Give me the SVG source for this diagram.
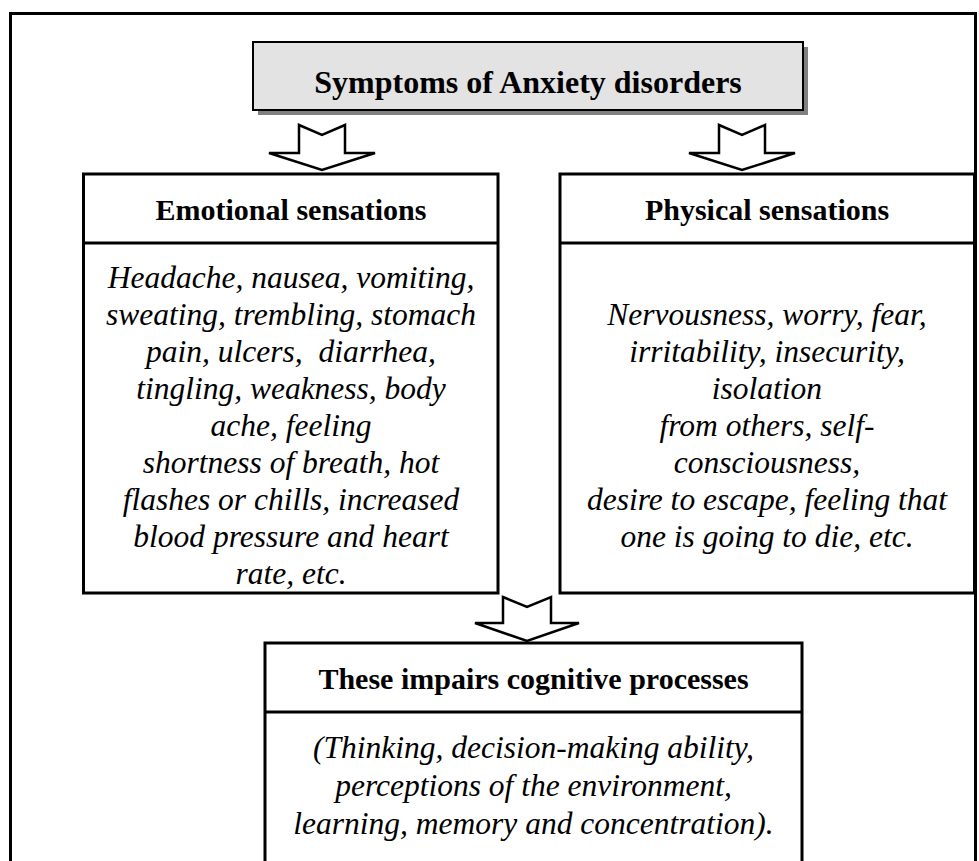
<svg xmlns="http://www.w3.org/2000/svg" width="979" height="861" viewBox="0 0 979 861">
<style>
.frame{fill:none;stroke:#000;stroke-width:3}
.box{fill:#fff;stroke:#000;stroke-width:3}
.div{stroke:#000;stroke-width:3}
.arrow{fill:#fff;stroke:#000;stroke-width:2.5;stroke-linejoin:miter}
.title{font-family:"Liberation Serif","Times New Roman",serif;font-weight:bold;font-size:32px;text-anchor:middle;fill:#000}
.head{font-family:"Liberation Serif","Times New Roman",serif;font-weight:bold;font-size:30px;text-anchor:middle;fill:#000}
.body{font-family:"Liberation Serif","Times New Roman",serif;font-style:italic;font-size:31.5px;text-anchor:middle;fill:#000}
</style>
<rect width="979" height="861" fill="#fff"/>
<rect class="frame" x="10.5" y="13.5" width="965" height="900"/>

<g id="title">
<rect x="258" y="47" width="550" height="68" fill="#808080"/>
<rect x="253" y="42" width="550" height="68" fill="#e3e3e3" stroke="#000" stroke-width="2"/>
<text class="title" x="528" y="93">Symptoms of Anxiety disorders</text>
</g>

<g id="connectors">
<polygon class="arrow" points="299,125 322,135 345,125 345,153 375,153 322,170 269,153 299,153"/>
<polygon class="arrow" points="719,125 742,135 765,125 765,153 795,153 742,170 689,153 719,153"/>
<polygon class="arrow" points="503,597 527,607 551,597 551,623 579,623 527,641 475,623 503,623"/>
</g>

<g id="emotional">
<rect class="box" x="83.5" y="174" width="414.5" height="419"/>
<line class="div" x1="83.5" y1="243" x2="498" y2="243"/>
<text class="head" x="291" y="220">Emotional sensations</text>
<text class="body" x="291" y="288">Headache, nausea, vomiting,</text>
<text class="body" x="291" y="325">sweating, trembling, stomach</text>
<text class="body" x="291" y="362" xml:space="preserve" style="white-space:pre">pain, ulcers,  diarrhea,</text>
<text class="body" x="291" y="399">tingling, weakness, body</text>
<text class="body" x="291" y="436">ache, feeling</text>
<text class="body" x="291" y="473">shortness of breath, hot</text>
<text class="body" x="291" y="510">flashes or chills, increased</text>
<text class="body" x="291" y="547">blood pressure and heart</text>
<text class="body" x="291" y="584">rate, etc.</text>
</g>

<g id="physical">
<rect class="box" x="560" y="174" width="414.5" height="419"/>
<line class="div" x1="560" y1="243" x2="974.5" y2="243"/>
<text class="head" x="767" y="220">Physical sensations</text>
<text class="body" x="767" y="325">Nervousness, worry, fear,</text>
<text class="body" x="767" y="362">irritability, insecurity,</text>
<text class="body" x="767" y="399">isolation</text>
<text class="body" x="767" y="436">from others, self-</text>
<text class="body" x="767" y="473">consciousness,</text>
<text class="body" x="767" y="510">desire to escape, feeling that</text>
<text class="body" x="767" y="547">one is going to die, etc.</text>
</g>

<g id="cognitive">
<rect class="box" x="265" y="643" width="537" height="260"/>
<line class="div" x1="265" y1="712" x2="802" y2="712"/>
<text class="head" x="533.5" y="689">These impairs cognitive processes</text>
<text class="body" x="533.5" y="758">(Thinking, decision-making ability,</text>
<text class="body" x="533.5" y="796">perceptions of the environment,</text>
<text class="body" x="533.5" y="834">learning, memory and concentration).</text>
</g>
</svg>
